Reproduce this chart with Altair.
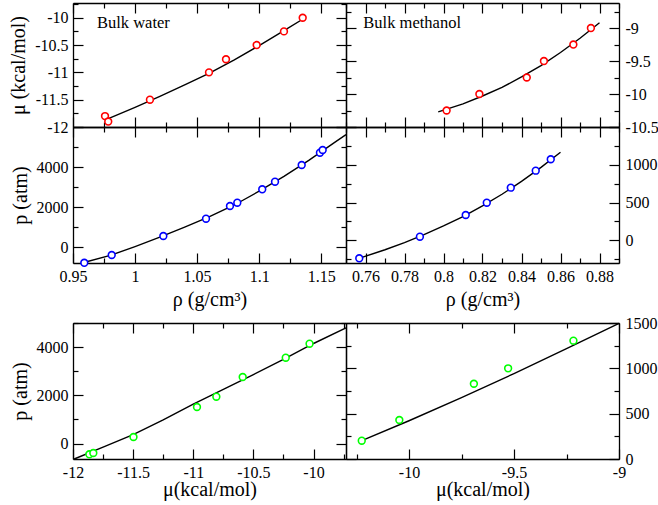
import json
import altair as alt
import pandas as pd

W, H = 658, 505
FONT = "Liberation Serif"
MAJ, MIN = 10, 5

# ---------------- data ----------------
# Bulk water: chemical potential vs density (red) + fit
water_rho_mu = [0.9758, 0.9784, 1.0120, 1.0596, 1.0733, 1.0980, 1.1200, 1.1351]
water_mu = [-11.80, -11.90, -11.50, -11.00, -10.76, -10.50, -10.25, -10.00]
water_fit_rho_mu = [0.978, 1.00, 1.02, 1.04, 1.06, 1.08, 1.10, 1.12, 1.137]
water_fit_mu = [-11.85, -11.64, -11.44, -11.23, -11.015, -10.77, -10.51, -10.235, -10.00]

# Bulk methanol: chemical potential vs density (red) + fit
meth_rho_mu = [0.8016, 0.8184, 0.8427, 0.8515, 0.8666, 0.8756]
meth_mu = [-10.25, -10.00, -9.75, -9.50, -9.25, -9.00]
meth_fit_rho_mu = [0.7973, 0.81, 0.82, 0.83, 0.84, 0.85, 0.86, 0.87, 0.88]
meth_fit_mu = [-10.27, -10.15, -10.03, -9.90, -9.74, -9.57, -9.37, -9.155, -8.92]

# Bulk water: pressure vs density (blue) + fit
water_rho_p = [0.9591, 0.9812, 1.0228, 1.0572, 1.0765, 1.0824, 1.1025, 1.1128, 1.1343, 1.1490, 1.1512]
water_p = [-790, -400, 550, 1415, 2050, 2215, 2885, 3265, 4100, 4715, 4850]
water_fit_rho_p = [0.958, 0.98, 1.00, 1.02, 1.04, 1.06, 1.08, 1.10, 1.12, 1.14, 1.16, 1.17]
water_fit_p = [-790, -420, 20, 490, 990, 1520, 2100, 2790, 3530, 4330, 5190, 5620]

# Bulk methanol: pressure vs density (blue) + fit
meth_rho_p = [0.7568, 0.7879, 0.8114, 0.8222, 0.8345, 0.8473, 0.8550]
meth_p = [-238, 48, 335, 498, 697, 922, 1073]
meth_fit_rho_p = [0.757, 0.77, 0.78, 0.79, 0.80, 0.81, 0.82, 0.83, 0.84, 0.85, 0.86]
meth_fit_p = [-236, -125, -30, 75, 190, 315, 455, 610, 780, 965, 1165]

# Bulk water: pressure vs chemical potential (green) + fit
water_mu_p = [-11.864, -11.831, -11.497, -10.969, -10.808, -10.589, -10.231, -10.033]
water_p_mu = [-445, -391, 272, 1517, 1944, 2761, 3561, 4142]
water_fit_mu_p = [-11.99, -11.75, -11.5, -11.25, -11.0, -10.75, -10.5, -10.25, -10.0, -9.73]
water_fit_p_mu = [-640, -150, 370, 980, 1640, 2250, 2860, 3490, 4150, 4800]

# Bulk methanol: pressure vs chemical potential (green) + fit
meth_mu_p = [-10.225, -10.046, -9.691, -9.528, -9.217]
meth_p_mu = [202, 430, 830, 1000, 1305]
meth_fit_mu_p = [-10.225, -10.0, -9.75, -9.5, -9.25, -9.0]
meth_fit_p_mu = [202, 422, 677, 942, 1217, 1497]

# ---------------- ticks ----------------
rho_w_major = [0.95, 1.0, 1.05, 1.1, 1.15]
rho_w_minor = [0.975, 1.025, 1.075, 1.125]
rho_m_major = [0.76, 0.78, 0.8, 0.82, 0.84, 0.86, 0.88]
rho_m_minor = [0.75, 0.77, 0.79, 0.81, 0.83, 0.85, 0.87, 0.89]
muw_major = [-12, -11.5, -11, -10.5, -10]
muw_minor = [-11.75, -11.25, -10.75, -10.25, -9.75]
mum_major = [-10.5, -10, -9.5, -9]
mum_minor = [-10.25, -9.75, -9.25, -8.75]
pw_major = [0, 2000, 4000, 6000]
pw_minor = [1000, 3000, 5000]
pm_major = [0, 500, 1000, 1500]
pm_minor = [-250, 250, 750, 1250]
pw2_major = [0, 2000, 4000]
pw2_minor = [1000, 3000, 5000]
mum2_major = [-10, -9.5, -9]
mum2_minor = [-10.25, -9.75, -9.25]
pm2_major = [0, 500, 1000, 1500]
pm2_minor = [250, 750, 1250]

annot_text = ["Bulk water", "Bulk methanol"]
annot_x = [0.9693, 0.7589]
annot_y = [-10.193, -9.004]


def tick_axis(orient, offset, major, minor):
    vals = sorted(set(major + minor))
    test = "indexof(%s, datum.value) >= 0" % json.dumps(major)
    return alt.Axis(orient=orient, offset=offset, values=vals, labels=False, title=None,
                    grid=False, domain=True, domainColor="black", domainWidth=1.3,
                    ticks=True, tickColor="black", tickWidth=1.2,
                    tickSize={"condition": {"test": test, "value": MAJ}, "value": MIN})


def label_axis(orient, offset, values, pad, title=None, tx=0, ty=0, tangle=0):
    kw = dict(orient=orient, offset=offset, values=values, labels=True, ticks=False,
              tickSize=0, domain=False, grid=False, labelExpr="'' + datum.value",
              labelFont=FONT, labelFontSize=16, labelColor="black", labelPadding=pad,
              labelFlush=False, labelOverlap=False)
    if title:
        kw.update(title=title, titleX=tx, titleY=ty, titleFont=FONT, titleFontSize=20,
                  titleFontWeight="normal", titleColor="black", titleAlign="center",
                  titleBaseline="alphabetic", titleAngle=tangle, titlePadding=0)
    else:
        kw["title"] = None
    return alt.Axis(**kw)


def panel(px, py, xdom, ydom, xmaj, xmin, ymaj, ymin, pts, fit, color,
          xlab=None, ylab=None, annot=None):
    x0, x1 = px
    y0, y1 = py
    xs = alt.Scale(domain=xdom, range=[x0, x1], nice=False, zero=False)
    ys = alt.Scale(domain=ydom, range=[y1, y0], nice=False, zero=False)
    dpts = pd.DataFrame({"x": pts[0], "y": pts[1]})
    dfit = pd.DataFrame({"x": fit[0], "y": fit[1]})
    layers = []
    layers.append(alt.Chart(dfit).mark_line(color="black", strokeWidth=1.4).encode(
        x=alt.X("x:Q", scale=xs, axis=tick_axis("top", -y1, xmaj, xmin)),
        y=alt.Y("y:Q", scale=ys, axis=tick_axis("right", x0 - W, ymaj, ymin))))
    layers.append(alt.Chart(dpts).mark_point(shape="circle", filled=False, fill="white",
                                             fillOpacity=1, color=color, size=46,
                                             strokeWidth=1.6, opacity=1).encode(
        x=alt.X("x:Q", scale=xs, axis=tick_axis("bottom", y0 - H, xmaj, xmin)),
        y=alt.Y("y:Q", scale=ys, axis=tick_axis("left", -x1, ymaj, ymin))))
    if xlab:
        xa = label_axis("bottom", y1 - H, xlab["values"], 5, xlab["title"],
                        (x0 + x1) / 2, xlab["ty"], 0)
    else:
        xa = None
    if ylab["side"] == "left":
        ya = label_axis("left", -x0, ylab["values"], 5, ylab.get("title"),
                        ylab.get("tx", 0), (y0 + y1) / 2, 270)
    else:
        ya = label_axis("right", x1 - W, ylab["values"], 6)
    layers.append(alt.Chart(dpts).mark_point(opacity=0).encode(
        x=alt.X("x:Q", scale=xs, axis=xa),
        y=alt.Y("y:Q", scale=ys, axis=ya)))
    if annot is not None:
        dann = pd.DataFrame({"x": [annot_x[annot]], "y": [annot_y[annot]], "t": [annot_text[annot]]})
        layers.append(alt.Chart(dann).mark_text(font=FONT, fontSize=16.5, color="black",
                                                align="left", baseline="alphabetic").encode(
            x=alt.X("x:Q", scale=xs, axis=None),
            y=alt.Y("y:Q", scale=ys, axis=None),
            text="t:N"))
    return layers


RED, BLUE, GREEN = "#ff0000", "#0000ff", "#00ff00"
RHO_T = "ρ (g/cm³)"
MU_T = "μ(kcal/mol)"

layers = []
layers += panel((73, 346), (3, 127), [0.95, 1.17], [-12, -9.73], rho_w_major, rho_w_minor,
                muw_major, muw_minor, (water_rho_mu, water_mu), (water_fit_rho_mu, water_fit_mu), RED,
                ylab=dict(side="left", values=muw_major, title="μ (kcal/mol)", tx=-49), annot=0)
layers += panel((346, 619), (3, 127), [0.75, 0.89], [-10.5, -8.62], rho_m_major, rho_m_minor,
                mum_major, mum_minor, (meth_rho_mu, meth_mu), (meth_fit_rho_mu, meth_fit_mu), RED,
                ylab=dict(side="right", values=mum_major), annot=1)
layers += panel((73, 346), (127, 263), [0.95, 1.17], [-800, 6000], rho_w_major, rho_w_minor,
                pw_major, pw_minor, (water_rho_p, water_p), (water_fit_rho_p, water_fit_p), BLUE,
                xlab=dict(values=rho_w_major, title=RHO_T, ty=42),
                ylab=dict(side="left", values=[0, 2000, 4000], title="p (atm)", tx=-47))
layers += panel((346, 619), (127, 263), [0.75, 0.89], [-300, 1500], rho_m_major, rho_m_minor,
                pm_major, pm_minor, (meth_rho_p, meth_p), (meth_fit_rho_p, meth_fit_p), BLUE,
                xlab=dict(values=rho_m_major, title=RHO_T, ty=42),
                ylab=dict(side="right", values=[0, 500, 1000]))
layers += panel((73, 346), (323, 459), [-12, -9.73], [-640, 5000], muw_major, muw_minor,
                pw2_major, pw2_minor, (water_mu_p, water_p_mu), (water_fit_mu_p, water_fit_p_mu), GREEN,
                xlab=dict(values=muw_major, title=MU_T, ty=36),
                ylab=dict(side="left", values=pw2_major, title="p (atm)", tx=-47))
layers += panel((346, 619), (323, 459), [-10.3, -9.0], [0, 1500], mum2_major, mum2_minor,
                pm2_major, pm2_minor, (meth_mu_p, meth_p_mu), (meth_fit_mu_p, meth_fit_p_mu), GREEN,
                xlab=dict(values=mum2_major, title=MU_T, ty=36),
                ylab=dict(side="right", values=pm2_major))

chart = alt.layer(*layers).resolve_scale(x="independent", y="independent").properties(
    width=W, height=H, padding=0, autosize=alt.AutoSizeParams(type="none"), background="white"
).configure(font=FONT).configure_axis(
    labelFont=FONT, titleFont=FONT, labelFontSize=16, titleFontSize=20, titleFontWeight="normal"
).configure_text(font=FONT).configure_view(stroke=None)

chart.save("out.html", embed_options={"renderer": "svg", "actions": False})
